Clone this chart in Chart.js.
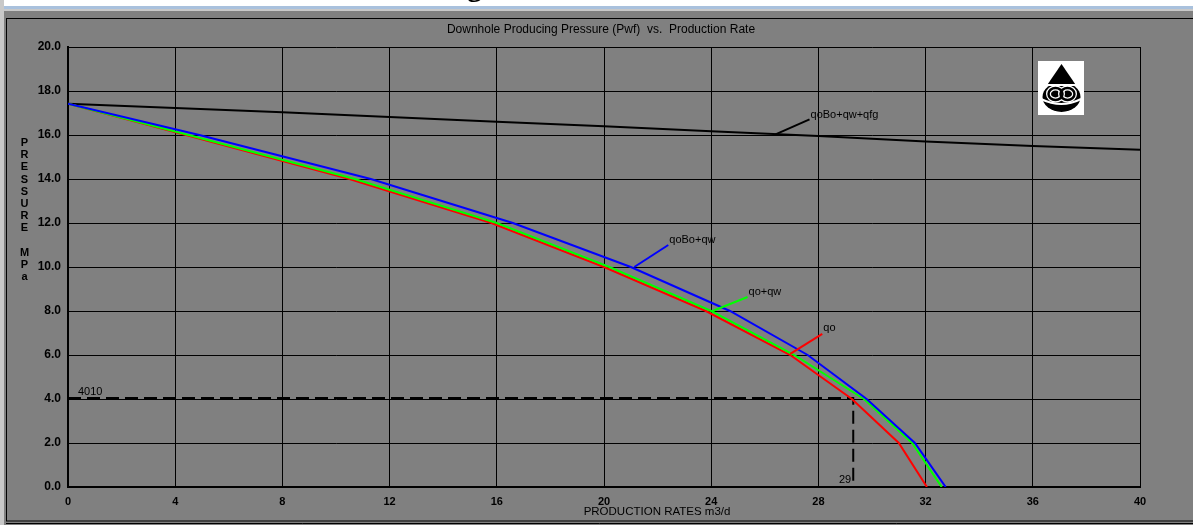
<!DOCTYPE html>
<html>
<head>
<meta charset="utf-8">
<script src="https://cdn.jsdelivr.net/npm/chart.js@4"></script>
<style>
  html, body { margin: 0; padding: 0; background: #808080; }
  #wrap { width: 1193px; height: 525px; }
</style>
</head>
<body>
<div id="wrap"><canvas id="iprChart" width="1193" height="525"></canvas></div>
<script>
// values
const pressureNodes = [17.42, 16, 14, 12, 10, 8, 6, 4, 2, 0];
const rateQoBoQw = [0, 4.9, 11.3, 16.6, 21.0, 24.7, 27.6, 29.8, 31.6, 32.75];
const rateQoQw   = [0, 4.5, 10.7, 16.0, 20.2, 24.0, 27.1, 29.7, 31.5, 32.6];
const rateQo     = [0, 4.4, 10.5, 15.8, 20.0, 23.8, 26.95, 29.25, 31.0, 32.05];

const totalRates    = [0, 4, 8, 12, 16, 20, 24, 28, 32, 36, 40];
const totalPressure = [17.42, 17.23, 17.03, 16.82, 16.6, 16.4, 16.17, 15.95, 15.71, 15.5, 15.33];

const operatingRate = 29.3;
const operatingPressure = 4.05;
const operatingRateLabel = '29';
const operatingPressureLabel = '4010';

const seriesNames = ['qoBo+qw', 'qo+qw', 'qo', 'qoBo+qw+qfg'];
const chartTitle = 'Downhole Producing Pressure (Pwf)  vs.  Production Rate';
const xTitle = 'PRODUCTION RATES m3/d';
const yTitleTop = 'PRESSURE';
const yTitleBottom = 'MPa';

const toPoints = (xs, ys) => xs.map((x, i) => ({ x: x, y: ys[i] }));

// where each curve name is hung off its curve (data units)
const leaders = [
    { text: seriesNames[3], color: '#000000', x: 26.4, y: 16.03, dx: 34, dy: -15, ty: -19 },
    { text: seriesNames[0], color: '#0000ff', x: 21.13, y: 10.0, dx: 34, dy: -22, ty: -27 },
    { text: seriesNames[1], color: '#00ff00', x: 24.05, y: 8.0, dx: 35, dy: -14, ty: -19.5 },
    { text: seriesNames[2], color: '#ff0000', x: 26.95, y: 6.05, dx: 32, dy: -20, ty: -26 }
];

const FONT = '"Liberation Sans", Arial, sans-serif';

const decorations = {
    id: 'decorations',
    beforeDraw(chart) {
        const c = chart.ctx;
        const w = chart.width, h = chart.height;
        c.save();
        c.fillStyle = '#808080';
        c.fillRect(0, 0, w, h);
        // window chrome at the top
        c.fillStyle = '#ffffff';
        c.fillRect(0, 0, w, 6);
        c.fillStyle = '#a9c1dd';
        c.fillRect(0, 6, w, 3);
        c.fillStyle = '#c8c8c8';
        c.fillRect(0, 9, w, 2);
        c.fillRect(0, 0, 4, h);
        c.fillStyle = '#000000';
        c.font = 'bold 30px "Liberation Serif", serif';
        c.textBaseline = 'alphabetic';
        c.fillText('g', 467, -4);
        // frame
        c.strokeStyle = '#000000';
        c.lineWidth = 1;
        c.strokeRect(6.5, 18.5, w + 4, 502.5);
        c.beginPath();
        c.moveTo(6, 523.5);
        c.lineTo(w, 523.5);
        c.stroke();
        c.restore();
    },
    afterDraw(chart) {
        const c = chart.ctx;
        const xs = chart.scales.x, ys = chart.scales.y;
        const area = chart.chartArea;
        c.save();
        c.fillStyle = '#000000';
        c.textBaseline = 'middle';

        // title
        c.font = '12px ' + FONT;
        c.textAlign = 'center';
        c.fillText(chartTitle, 601, 29.5);

        // x axis title
        c.font = '11.5px ' + FONT;
        c.fillText(xTitle, 657, 512);

        // y axis title, one letter per line
        c.font = 'bold 11px ' + FONT;
        let yy = 143;
        for (const ch of yTitleTop) { c.fillText(ch, 24.5, yy); yy += 12.2; }
        yy += 12;
        for (const ch of yTitleBottom) { c.fillText(ch, 24.5, yy); yy += 12.2; }

        // operating point labels
        c.font = '11px ' + FONT;
        c.textAlign = 'left';
        c.fillText(operatingPressureLabel, xs.getPixelForValue(0) + 10, ys.getPixelForValue(operatingPressure) - 6);
        c.textAlign = 'right';
        c.fillText(operatingRateLabel, xs.getPixelForValue(operatingRate) - 2, ys.getPixelForValue(0) - 7);

        // curve names with leader lines
        c.textAlign = 'left';
        c.lineWidth = 2;
        leaders.forEach(l => {
            const px = xs.getPixelForValue(l.x), py = ys.getPixelForValue(l.y);
            c.strokeStyle = l.color;
            c.beginPath();
            c.moveTo(px, py);
            c.lineTo(px + l.dx, py + l.dy);
            c.stroke();
            c.fillStyle = '#000000';
            c.fillText(l.text, px + l.dx + 1, py + l.ty);
        });

        // logo in the upper right corner
        const lx = area.right - 102, ly = area.top + 14;
        c.fillStyle = '#ffffff';
        c.fillRect(lx, ly, 46, 54);
        c.fillStyle = '#000000';
        const cx = lx + 23.5;
        c.beginPath();
        c.moveTo(cx, ly + 3);
        c.lineTo(cx - 15, ly + 25);
        c.lineTo(cx + 15, ly + 25);
        c.closePath();
        c.fill();
        c.beginPath();
        c.ellipse(cx, ly + 36, 19, 15, 0, 0, Math.PI * 2);
        c.fill();
        c.fillStyle = '#ffffff';
        c.fillRect(lx, ly + 23, 46, 2);
        // interlocking rings
        c.lineWidth = 5;
        c.strokeStyle = '#ffffff';
        c.beginPath(); c.ellipse(cx - 6, ly + 33, 7, 6, 0, 0, Math.PI * 2); c.stroke();
        c.beginPath(); c.ellipse(cx + 6, ly + 33, 7, 6, 0, 0, Math.PI * 2); c.stroke();
        c.lineWidth = 2.5;
        c.strokeStyle = '#000000';
        c.beginPath(); c.ellipse(cx - 6, ly + 33, 7, 6, 0, 0, Math.PI * 2); c.stroke();
        c.beginPath(); c.ellipse(cx + 6, ly + 33, 7, 6, 0, 0, Math.PI * 2); c.stroke();
        // white smile under the rings
        c.strokeStyle = '#ffffff';
        c.lineWidth = 2;
        c.beginPath();
        c.moveTo(lx + 3, ly + 38);
        c.quadraticCurveTo(cx, ly + 48, lx + 43, ly + 38);
        c.stroke();
        c.restore();
    }
};

const ctx = document.getElementById('iprChart').getContext('2d');
new Chart(ctx, {
    type: 'scatter',
    data: {
        datasets: [
            {
                label: seriesNames[0],
                data: toPoints(rateQoBoQw, pressureNodes),
                borderColor: '#0000ff',
                borderWidth: 2
            },
            {
                label: seriesNames[1],
                data: toPoints(rateQoQw, pressureNodes),
                borderColor: '#00ff00',
                borderWidth: 2
            },
            {
                label: seriesNames[2],
                data: toPoints(rateQo, pressureNodes),
                borderColor: '#ff0000',
                borderWidth: 2
            },
            {
                label: seriesNames[3],
                data: toPoints(totalRates, totalPressure),
                borderColor: '#000000',
                borderWidth: 2
            },
            {
                label: 'operating point',
                data: [
                    { x: 0, y: operatingPressure },
                    { x: operatingRate, y: operatingPressure },
                    { x: operatingRate, y: 0 }
                ],
                borderColor: '#000000',
                borderWidth: 2,
                borderDash: [13, 6]
            }
        ]
    },
    options: {
        responsive: false,
        animation: false,
        devicePixelRatio: 1,
        showLine: true,
        elements: {
            point: { radius: 0, hoverRadius: 0 },
            line: { tension: 0, fill: false }
        },
        layout: { padding: { top: 47, right: 53, left: 0, bottom: 0 } },
        plugins: {
            legend: { display: false },
            title: { display: false },
            tooltip: { enabled: false }
        },
        scales: {
            x: {
                type: 'linear',
                min: 0,
                max: 40,
                afterFit: s => { s.height = 38; },
                ticks: {
                    stepSize: 4,
                    autoSkip: false,
                    maxRotation: 0,
                    padding: 8,
                    color: '#000000',
                    font: { family: FONT, size: 11, weight: 'bold' }
                },
                grid: { color: '#000000', lineWidth: 1, drawTicks: false },
                border: { color: '#000000', width: 2 }
            },
            y: {
                type: 'linear',
                min: 0,
                max: 20,
                afterFit: s => { s.width = 68; },
                ticks: {
                    stepSize: 2,
                    padding: 7,
                    color: '#000000',
                    font: { family: FONT, size: 12, weight: 'bold' },
                    callback: v => v.toFixed(1)
                },
                grid: { color: '#000000', lineWidth: 1, drawTicks: false },
                border: { color: '#000000', width: 2 }
            }
        }
    },
    plugins: [decorations]
});
</script>
</body>
</html>
